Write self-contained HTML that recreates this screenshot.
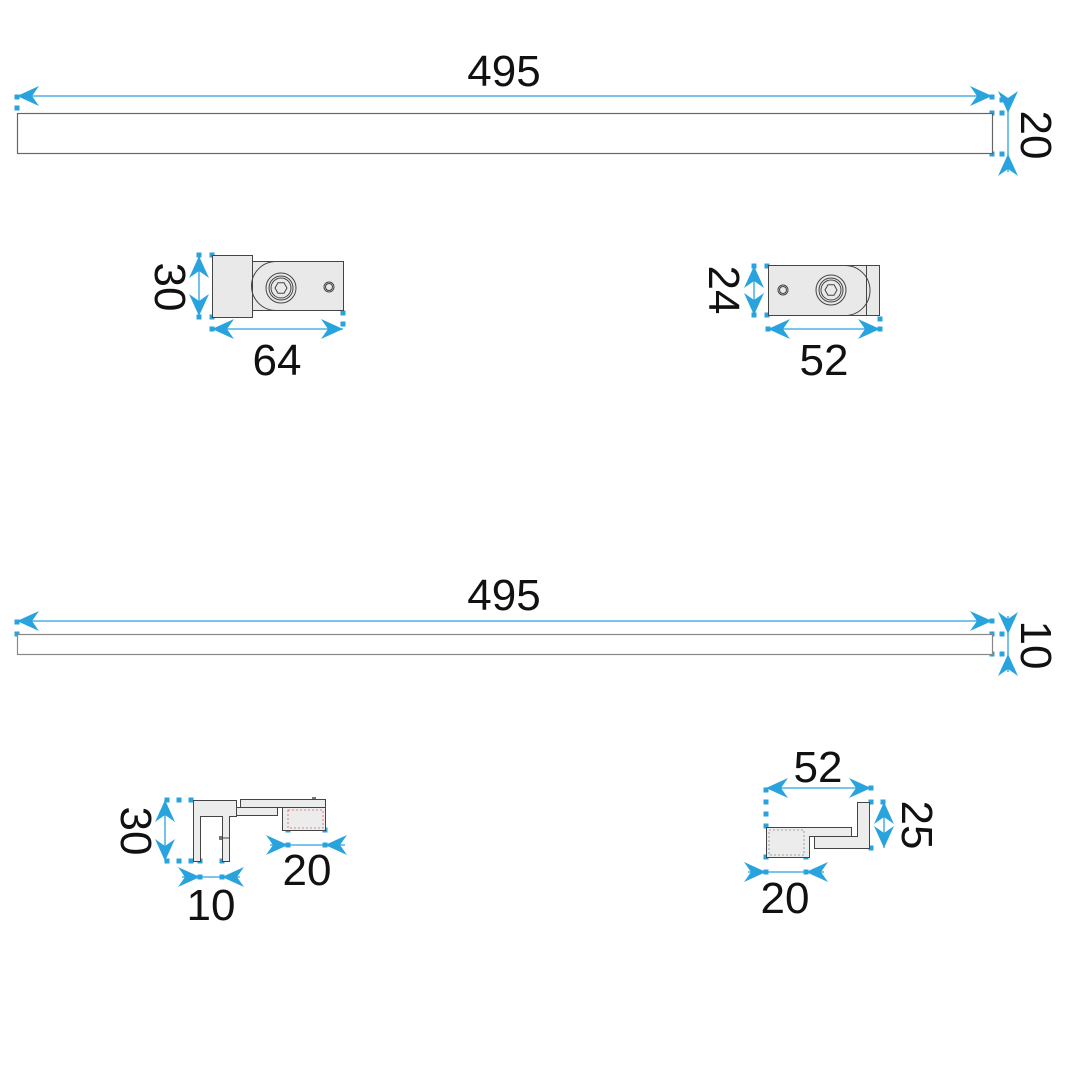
<!DOCTYPE html>
<html><head><meta charset="utf-8"><style>
html,body{margin:0;padding:0;background:#fff}
svg{display:block}
text{font-family:"Liberation Sans",sans-serif;font-size:44px;fill:#111}
</style></head><body>
<svg width="1080" height="1080" viewBox="0 0 1080 1080" xmlns="http://www.w3.org/2000/svg">
<defs>
<path id="a" d="M0,0 L-22,-10 L-15,0 L-22,10Z" fill="#29a3dd"/>
<rect id="s" x="-2.5" y="-2.5" width="5" height="5" fill="#29a3dd"/>
</defs>
<g stroke="#29a3dd" stroke-width="1.3" fill="none">
<line x1="17" y1="96" x2="992" y2="96"/>
<line x1="1008" y1="98" x2="1008" y2="172"/>
<line x1="17" y1="621" x2="992" y2="621"/>
<line x1="1008" y1="616" x2="1008" y2="672"/>
<line x1="199" y1="256" x2="199" y2="316"/>
<line x1="212" y1="329" x2="343" y2="329"/>
<line x1="754" y1="267" x2="754" y2="315"/>
<line x1="768" y1="329" x2="880" y2="329"/>
<line x1="165" y1="800" x2="165" y2="861"/>
<line x1="182" y1="877" x2="240" y2="877"/>
<line x1="270" y1="845" x2="345" y2="845"/>
<line x1="766" y1="788" x2="871" y2="788"/>
<line x1="884" y1="802" x2="884" y2="848"/>
<line x1="748" y1="872" x2="824" y2="872"/>
</g>
<use href="#a" transform="translate(17,96) rotate(180)"/>
<use href="#a" transform="translate(992,96)"/>
<use href="#a" transform="translate(1008,113) rotate(90)"/>
<use href="#a" transform="translate(1008,154) rotate(-90)"/>
<use href="#a" transform="translate(17,621) rotate(180)"/>
<use href="#a" transform="translate(992,621)"/>
<use href="#a" transform="translate(1008,634) rotate(90)"/>
<use href="#a" transform="translate(1008,654) rotate(-90)"/>
<use href="#a" transform="translate(199,256) rotate(-90)"/>
<use href="#a" transform="translate(199,316) rotate(90)"/>
<use href="#a" transform="translate(212,329) rotate(180)"/>
<use href="#a" transform="translate(343,329)"/>
<use href="#a" transform="translate(754,266) rotate(-90)"/>
<use href="#a" transform="translate(754,315) rotate(90)"/>
<use href="#a" transform="translate(768,329) rotate(180)"/>
<use href="#a" transform="translate(880,329)"/>
<use href="#a" transform="translate(165,800) rotate(-90)"/>
<use href="#a" transform="translate(165,861) rotate(90)"/>
<use href="#a" transform="translate(200,877)"/>
<use href="#a" transform="translate(222,877) rotate(180)"/>
<use href="#a" transform="translate(288,845)"/>
<use href="#a" transform="translate(325,845) rotate(180)"/>
<use href="#a" transform="translate(766,788) rotate(180)"/>
<use href="#a" transform="translate(871,788)"/>
<use href="#a" transform="translate(884,802) rotate(-90)"/>
<use href="#a" transform="translate(884,848) rotate(90)"/>
<use href="#a" transform="translate(766,872)"/>
<use href="#a" transform="translate(806,872) rotate(180)"/>
<use href="#s" x="17" y="97"/><use href="#s" x="17" y="108"/>
<use href="#s" x="992" y="97"/><use href="#s" x="992" y="113"/><use href="#s" x="1002" y="100"/><use href="#s" x="1002" y="113"/><use href="#s" x="992" y="154"/><use href="#s" x="1002" y="154"/>
<use href="#s" x="17" y="622"/><use href="#s" x="17" y="634"/>
<use href="#s" x="992" y="621"/><use href="#s" x="992" y="634"/><use href="#s" x="1002" y="634"/><use href="#s" x="992" y="654"/><use href="#s" x="1002" y="654"/>
<use href="#s" x="199" y="255"/><use href="#s" x="212" y="255"/><use href="#s" x="199" y="317"/><use href="#s" x="212" y="317"/>
<use href="#s" x="212" y="329"/><use href="#s" x="343" y="313"/><use href="#s" x="343" y="324"/>
<use href="#s" x="754" y="266"/><use href="#s" x="767" y="266"/><use href="#s" x="754" y="315"/><use href="#s" x="767" y="315"/>
<use href="#s" x="768" y="329"/><use href="#s" x="880" y="319"/><use href="#s" x="880" y="329"/>
<use href="#s" x="167" y="800"/><use href="#s" x="179" y="800"/><use href="#s" x="191" y="800"/>
<use href="#s" x="167" y="861"/><use href="#s" x="179" y="861"/><use href="#s" x="191" y="861"/>
<use href="#s" x="200" y="861"/><use href="#s" x="222" y="861"/><use href="#s" x="200" y="877"/><use href="#s" x="222" y="877"/>
<use href="#s" x="288" y="830"/><use href="#s" x="325" y="830"/><use href="#s" x="288" y="845"/><use href="#s" x="325" y="845"/>
<use href="#s" x="766" y="790"/><use href="#s" x="766" y="802"/><use href="#s" x="766" y="814"/><use href="#s" x="766" y="826"/>
<use href="#s" x="871" y="788"/><use href="#s" x="871" y="802"/><use href="#s" x="883" y="802"/><use href="#s" x="871" y="848"/>
<use href="#s" x="766" y="857"/><use href="#s" x="806" y="857"/><use href="#s" x="766" y="872"/><use href="#s" x="806" y="872"/>
<rect x="17.5" y="113.5" width="975" height="40" fill="#fff" stroke="#666" stroke-width="1.2"/>
<rect x="17.5" y="634.5" width="975" height="20" fill="#fff" stroke="#888" stroke-width="1.2"/>
<g stroke="#444" stroke-width="1" fill="#e9e9e9">
<rect x="252.5" y="261.5" width="91" height="49"/>
<rect x="212.5" y="255.5" width="40" height="62"/>
<path d="M276,261.5 A24,24 0 0 0 276,310.5" fill="none"/>
<circle cx="281" cy="288" r="15" fill="none"/>
<circle cx="281" cy="288" r="12" fill="none"/>
<circle cx="281" cy="288" r="10" fill="none"/>
<polygon points="287,288 284,293.2 278,293.2 275,288 278,282.8 284,282.8" fill="none"/>
<circle cx="329" cy="287" r="5" fill="none"/>
<circle cx="329" cy="287" r="3.5" fill="none"/>
</g>
<g stroke="#444" stroke-width="1" fill="#e9e9e9">
<rect x="768.5" y="265.5" width="111" height="50"/>
<line x1="866.5" y1="265.5" x2="866.5" y2="315.5"/>
<path d="M845,265.5 A25,25 0 0 1 845,315.5" fill="none"/>
<circle cx="831" cy="290" r="15" fill="none"/>
<circle cx="831" cy="290" r="12" fill="none"/>
<circle cx="831" cy="290" r="10" fill="none"/>
<polygon points="837,290 834,295.2 828,295.2 825,290 828,284.8 834,284.8" fill="none"/>
<circle cx="783" cy="290" r="5" fill="none"/>
<circle cx="783" cy="290" r="3.5" fill="none"/>
</g>
<g stroke="#444" stroke-width="1" fill="#ececec">
<rect x="240.5" y="799.5" width="85" height="8"/>
<rect x="236.5" y="807.5" width="41" height="8"/>
<rect x="282.5" y="807.5" width="43" height="23"/>
<polygon points="193.5,800.5 236.5,800.5 236.5,816.5 229.5,816.5 229.5,861.5 222.5,861.5 222.5,816.5 200.5,816.5 200.5,861.5 193.5,861.5"/>
<line x1="222.5" y1="838" x2="229.5" y2="838"/>
</g>
<rect x="219" y="836" width="3" height="4" fill="#777"/>
<rect x="312" y="797" width="4" height="2" fill="#777"/>
<rect x="288" y="810" width="35" height="18" fill="none" stroke="#c66" stroke-width="0.8" stroke-dasharray="2,2"/>
<g stroke="#444" stroke-width="1" fill="#ececec">
<polygon points="766.5,827.5 851.5,827.5 851.5,836.5 809.5,836.5 809.5,857.5 766.5,857.5"/>
<polygon points="857.5,802.5 869.5,802.5 869.5,848.5 814.5,848.5 814.5,836.5 857.5,836.5"/>
</g>
<rect x="769" y="830" width="35" height="25" fill="none" stroke="#888" stroke-width="0.8" stroke-dasharray="2,2"/>
<text x="504" y="86" text-anchor="middle">495</text>
<text x="504" y="610" text-anchor="middle">495</text>
<text x="277" y="375" text-anchor="middle">64</text>
<text x="824" y="375" text-anchor="middle">52</text>
<text x="211" y="920" text-anchor="middle">10</text>
<text x="307" y="885" text-anchor="middle">20</text>
<text x="818" y="782" text-anchor="middle">52</text>
<text x="785" y="913" text-anchor="middle">20</text>
<text transform="translate(1021,135) rotate(90)" text-anchor="middle">20</text>
<text transform="translate(1021,645) rotate(90)" text-anchor="middle">10</text>
<text transform="translate(155,287) rotate(90)" text-anchor="middle">30</text>
<text transform="translate(709,290) rotate(90)" text-anchor="middle">24</text>
<text transform="translate(121,831) rotate(90)" text-anchor="middle">30</text>
<text transform="translate(902,825) rotate(90)" text-anchor="middle">25</text>
</svg>
</body></html>
